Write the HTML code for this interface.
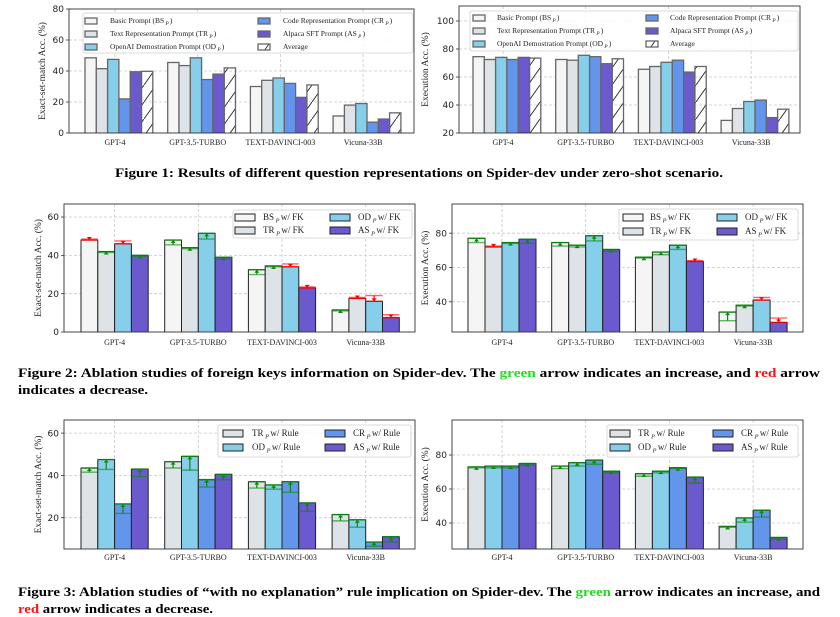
<!DOCTYPE html>
<html><head><meta charset="utf-8"><style>
html,body{margin:0;padding:0;background:#fff;}
svg{display:block;}
text{font-family:"Liberation Serif","DejaVu Serif",serif;}
.tick{font-family:"DejaVu Sans","Liberation Sans",sans-serif;font-size:9px;fill:#222;}
</style></head><body>
<svg id="fig" width="840" height="617" viewBox="0 0 840 617" xmlns="http://www.w3.org/2000/svg">
<defs>
<pattern id="hatch" patternUnits="userSpaceOnUse" width="12" height="17">
<line x1="0" y1="17" x2="12" y2="0" stroke="#222" stroke-width="0.9"/>
</pattern>
</defs>
<text x="115" y="177" textLength="608" lengthAdjust="spacingAndGlyphs" font-weight="bold" font-size="12.5">Figure 1: Results of different question representations on Spider-dev under zero-shot scenario.</text>
<text x="18" y="377" textLength="802" lengthAdjust="spacingAndGlyphs" font-weight="bold" font-size="12.5">Figure 2: Ablation studies of foreign keys information on Spider-dev. The <tspan fill="#22dd22">green</tspan> arrow indicates an increase, and <tspan fill="#ff1111">red</tspan> arrow</text>
<text x="18" y="394" textLength="130" lengthAdjust="spacingAndGlyphs" font-weight="bold" font-size="12.5">indicates a decrease.</text>
<text x="18" y="596" textLength="802" lengthAdjust="spacingAndGlyphs" font-weight="bold" font-size="12.5">Figure 3: Ablation studies of “with no explanation” rule implication on Spider-dev. The <tspan fill="#22dd22">green</tspan> arrow indicates an increase, and</text>
<text x="18" y="613" textLength="195" lengthAdjust="spacingAndGlyphs" font-weight="bold" font-size="12.5"><tspan fill="#ff1111">red</tspan> arrow indicates a decrease.</text>
</svg>
<script>
const categories = ['GPT-4','GPT-3.5-TURBO','TEXT-DAVINCI-003','Vicuna-33B'];
// Figure 1: exact-set-match
const em1BS  = [48.5, 45.5, 30, 11];
const em1TR  = [41.5, 43.5, 34, 18];
const em1OD  = [47.5, 48.5, 35.5, 19];
const em1CR  = [22, 34.5, 32, 7];
const em1AS  = [39.5, 38, 23, 9];
const em1AVG = [39.8, 42, 31, 13];
const em1Ticks = [0, 20, 40, 60, 80];
// Figure 1: execution
const ex1BS  = [74.5, 72.5, 65.5, 29];
const ex1TR  = [72.5, 72, 67.5, 37.5];
const ex1OD  = [74, 75.5, 70.5, 42.5];
const ex1CR  = [72.5, 74.5, 72, 43.5];
const ex1AS  = [74, 69.5, 63.5, 31];
const ex1AVG = [73.5, 73, 67.5, 37];
const ex1Ticks = [20, 40, 60, 80, 100];
// Figure 2: FK, exact-set-match (new / old)
const em2BS = [48, 48, 32.5, 11.5];   const em2BSold = [48.5, 45.5, 30, 11];
const em2TR = [42, 44, 34.5, 17.5];   const em2TRold = [41.5, 43.5, 34, 18];
const em2OD = [46, 51.5, 34, 16];     const em2ODold = [47.5, 48.5, 35.5, 19];
const em2AS = [40, 39, 23, 7.5];      const em2ASold = [39.5, 38, 23.5, 9];
const em2Ticks = [0, 20, 40, 60];
// Figure 2: FK, execution
const ex2BS = [77, 74.5, 66, 34];     const ex2BSold = [74.5, 72.5, 65.5, 29];
const ex2TR = [72, 73, 69, 38];       const ex2TRold = [72.5, 72, 67.5, 37.5];
const ex2OD = [74.5, 78.5, 73, 41];   const ex2ODold = [74, 75.5, 70.5, 42.5];
const ex2AS = [76.5, 70.5, 63.5, 28]; const ex2ASold = [74, 69.5, 64, 30.5];
const ex2Ticks = [40, 60, 80];
// Figure 3: Rule, exact-set-match
const em3TR = [43.5, 46.5, 37, 21.5]; const em3TRold = [41.5, 43.5, 34, 18.5];
const em3OD = [47.5, 49, 35.5, 19];   const em3ODold = [42.8, 42.5, 33.5, 15.5];
const em3CR = [26.5, 38, 37, 8.5];    const em3CRold = [22, 34.5, 32, 6.5];
const em3AS = [43, 40.5, 27, 11];     const em3ASold = [39.5, 38, 23, 8.5];
const em3Ticks = [20, 40, 60];
// Figure 3: Rule, execution
const ex3TR = [73, 73.5, 69, 38];     const ex3TROld = [72.5, 72, 67.5, 37.5];
const ex3OD = [73.5, 75.5, 70.5, 43]; const ex3ODold = [72.5, 73.5, 69.5, 40.5];
const ex3CR = [73.5, 77, 72.5, 47.5]; const ex3CRold = [72.5, 74.5, 72, 43.5];
const ex3AS = [75, 70.5, 67, 31.5];   const ex3ASold = [74, 69.5, 63.5, 30.5];
const ex3Ticks = [40, 60, 80];

const C = {BS:'#f5f5f5', TR:'#dde3e6', OD:'#87ceeb', CR:'#6495ed', AS:'#6a5acd'};
const NS = 'http://www.w3.org/2000/svg';
const svg = document.getElementById('fig');
function mk(tag, attrs, parent){
  const e = document.createElementNS(NS, tag);
  for (const k in attrs) e.setAttribute(k, attrs[k]);
  parent.appendChild(e);
  return e;
}
function labelText(parent, x, y, size, parts){
  const t = mk('text', {x:x, y:y, 'font-size':size, fill:'#222'}, parent);
  parts.forEach((p, i) => {
    const ts = mk('tspan', {}, t);
    if (i % 2 === 1) { ts.setAttribute('font-size', size*0.7); ts.setAttribute('font-style','italic'); ts.setAttribute('dy', size*0.25); }
    else if (i > 0) { ts.setAttribute('dy', -size*0.25); }
    ts.textContent = (i % 2 === 1 ? ' ' : '') + p + (i % 2 === 1 ? ' ' : '');
  });
  return t;
}
function drawPanel(p){
  const g = mk('g', {}, svg);
  
  
  const Y = v => p.y1 - (v - p.ymin) / (p.ymax - p.ymin) * (p.y1 - p.y0);
  const X = (i, k) => p.g0 + i * p.gs + k * p.w;
  const clip = mk('clipPath', {id: p.name + '-clip'}, g);
  mk('rect', {x:p.x0, y:p.y0, width:p.x1-p.x0, height:p.y1-p.y0}, clip);
  // grid
  p.ticks.forEach(t => {
    const gl = mk('line', {x1:p.x0, x2:p.x1, y1:Y(t), y2:Y(t), stroke:'#c8c8c8', 'stroke-width':0.8, 'stroke-dasharray':'3,2'}, g);
    
    
    const tl = mk('text', {x:p.x0-5, y:Y(t)+3.2, 'text-anchor':'end', class:'tick'}, g);
    tl.textContent = t;
    
    
    mk('line', {x1:p.x0-3, x2:p.x0, y1:Y(t), y2:Y(t), stroke:'#333', 'stroke-width':0.8}, g);
  });
  categories.forEach((c, i) => {
    const tx = p.g0 + i * p.gs + p.tickOff;
    const vl = mk('line', {x1:tx, x2:tx, y1:p.y0, y2:p.y1, stroke:'#c8c8c8', 'stroke-width':0.8, 'stroke-dasharray':'3,2'}, g);
    
    
    const xl = mk('text', {x:tx, y:p.xlabY, 'text-anchor':'middle', 'font-size':8, fill:'#222'}, g);
    xl.textContent = c;
    
    
  });
  const bg = mk('g', {'clip-path':'url(#' + p.name + '-clip)'}, g);
  p.series.forEach((s, k) => {
    s.vals.forEach((v, i) => {
      const x = X(i, k), top = Y(v);
      const r = mk('rect', {x:x, y:top, width:p.w, height:Math.max(0, p.y1 + 2 - top), fill:s.fill, stroke:p.edge, 'stroke-width':p.ew}, bg);
      
      
      if (s.old) {
        const o = s.old[i];
        const col = v >= o ? '#0a8a0a' : '#ff0000';
        const cx = x + p.w / 2;
        mk('line', {x1:x, x2:x+p.w, y1:Y(o), y2:Y(o), stroke:col, 'stroke-width':1.4, opacity:0.6}, bg);
        mk('line', {x1:x, x2:x+p.w, y1:top, y2:top, stroke:col, 'stroke-width':1.4, opacity:0.85}, bg);
        const a = mk('line', {x1:cx, x2:cx, y1:Y(o), y2:top, stroke:col, 'stroke-width':1.2}, bg);
        
        
        const d = v >= o ? 1 : -1;
        const hy = top + d * 3;
        const h = mk('polygon', {points:`${cx-2.5},${hy} ${cx+2.5},${hy} ${cx},${top}`, fill:col}, bg);
        
        
      }
    });
  });
  const fr = mk('rect', {x:p.x0, y:p.y0, width:p.x1-p.x0, height:p.y1-p.y0, fill:'none', stroke:'#333', 'stroke-width':0.9}, g);
  
  
  const cy = (p.y0 + p.y1) / 2;
  const yl = mk('text', {x:p.ylabX, y:cy, 'text-anchor':'middle', 'font-size':9.5, fill:'#222', transform:`rotate(-90 ${p.ylabX} ${cy})`}, g);
  yl.textContent = p.ylabel;
  
  
  // legend
  const L = p.legend;
  const lb = mk('rect', {x:L.x, y:L.y, width:L.w, height:L.h, rx:2, fill:'#fff', 'fill-opacity':0.85, stroke:'#cfcfcf', 'stroke-width':0.8}, g);
  
  
  L.items.forEach(it => {
    const pr = mk('rect', {x:it.px, y:it.y-L.ph+1, width:L.pw, height:L.ph, fill:it.fill, stroke:p.edge, 'stroke-width':p.ew}, g);
    
    
    const t = labelText(g, it.tx, it.y, L.fs, it.parts);
    
    
  });
}
const H = 'url(#hatch)';
// Panel 1
drawPanel({name:'fig1-em-chart', x0:69, x1:414, y0:9, y1:133, ymin:0, ymax:80, ticks:em1Ticks,
  g0:85, gs:82.7, w:11.3, tickOff:30, xlabY:145, ylabX:45, ylabel:'Exact-set-match Acc. (%)', edge:'#666', ew:1.3,
  series:[{key:'BS',vals:em1BS,fill:C.BS},{key:'TR',vals:em1TR,fill:C.TR},{key:'OD',vals:em1OD,fill:C.OD},{key:'CR',vals:em1CR,fill:C.CR},{key:'AS',vals:em1AS,fill:C.AS},{key:'AVG',vals:em1AVG,fill:H}],
  legend:{x:83,y:13,w:330,h:40,pw:12,ph:6,fs:7.5,items:[
    {px:85,tx:110,y:23,fill:C.BS,parts:['Basic Prompt (BS','P',')']},
    {px:85,tx:110,y:36,fill:C.TR,parts:['Text Representation Prompt (TR','P',')']},
    {px:85,tx:110,y:49,fill:C.OD,parts:['OpenAI Demostration Prompt (OD','P',')']},
    {px:258,tx:283,y:23,fill:C.CR,parts:['Code Representation Prompt (CR','P',')']},
    {px:258,tx:283,y:36,fill:C.AS,parts:['Alpaca SFT Prompt (AS','P',')']},
    {px:258,tx:283,y:49,fill:H,parts:['Average']}]}});
// Panel 2
drawPanel({name:'fig1-ex-chart', x0:459, x1:800, y0:6, y1:133, ymin:20, ymax:110.7, ticks:ex1Ticks,
  g0:473, gs:82.7, w:11.3, tickOff:30, xlabY:145, ylabX:428, ylabel:'Execution Acc. (%)', edge:'#666', ew:1.3,
  series:[{key:'BS',vals:ex1BS,fill:C.BS},{key:'TR',vals:ex1TR,fill:C.TR},{key:'OD',vals:ex1OD,fill:C.OD},{key:'CR',vals:ex1CR,fill:C.CR},{key:'AS',vals:ex1AS,fill:C.AS},{key:'AVG',vals:ex1AVG,fill:H}],
  legend:{x:470,y:11,w:328,h:40,pw:12,ph:6,fs:7.5,items:[
    {px:473,tx:497,y:20,fill:C.BS,parts:['Basic Prompt (BS','P',')']},
    {px:473,tx:497,y:33,fill:C.TR,parts:['Text Representation Prompt (TR','P',')']},
    {px:473,tx:497,y:46,fill:C.OD,parts:['OpenAI Demostration Prompt (OD','P',')']},
    {px:646,tx:670,y:20,fill:C.CR,parts:['Code Representation Prompt (CR','P',')']},
    {px:646,tx:670,y:33,fill:C.AS,parts:['Alpaca SFT Prompt (AS','P',')']},
    {px:646,tx:670,y:46,fill:H,parts:['Average']}]}});
// Panel 3
drawPanel({name:'fig2-em-chart', x0:64, x1:415, y0:204, y1:332, ymin:0, ymax:66.8, ticks:em2Ticks,
  g0:81, gs:83.7, w:16.8, tickOff:33.6, xlabY:345, ylabX:41, ylabel:'Exact-set-match Acc. (%)', edge:'#222', ew:1,
  series:[{key:'BS',vals:em2BS,old:em2BSold,fill:C.BS},{key:'TR',vals:em2TR,old:em2TRold,fill:C.TR},{key:'OD',vals:em2OD,old:em2ODold,fill:C.OD},{key:'AS',vals:em2AS,old:em2ASold,fill:C.AS}],
  legend:{x:233,y:210,w:179,h:28,pw:20,ph:7,fs:9,items:[
    {px:235,tx:263,y:220,fill:C.BS,parts:['BS','P','w/ FK']},
    {px:235,tx:263,y:233,fill:C.TR,parts:['TR','P','w/ FK']},
    {px:330,tx:358,y:220,fill:C.OD,parts:['OD','P','w/ FK']},
    {px:330,tx:358,y:233,fill:C.AS,parts:['AS','P','w/ FK']}]}});
// Panel 4
drawPanel({name:'fig2-ex-chart', x0:452, x1:803, y0:204, y1:332, ymin:22.4, ymax:97, ticks:ex2Ticks,
  g0:468, gs:83.7, w:17, tickOff:34, xlabY:345, ylabX:428, ylabel:'Execution Acc. (%)', edge:'#222', ew:1,
  series:[{key:'BS',vals:ex2BS,old:ex2BSold,fill:C.BS},{key:'TR',vals:ex2TR,old:ex2TRold,fill:C.TR},{key:'OD',vals:ex2OD,old:ex2ODold,fill:C.OD},{key:'AS',vals:ex2AS,old:ex2ASold,fill:C.AS}],
  legend:{x:619,y:209,w:179,h:31,pw:20,ph:7,fs:9,items:[
    {px:623,tx:650,y:220,fill:C.BS,parts:['BS','P','w/ FK']},
    {px:623,tx:650,y:234,fill:C.TR,parts:['TR','P','w/ FK']},
    {px:717,tx:745,y:220,fill:C.OD,parts:['OD','P','w/ FK']},
    {px:717,tx:745,y:234,fill:C.AS,parts:['AS','P','w/ FK']}]}});
// Panel 5
drawPanel({name:'fig3-em-chart', x0:64, x1:415, y0:420, y1:549, ymin:5.2, ymax:66.2, ticks:em3Ticks,
  g0:81, gs:83.7, w:16.8, tickOff:33.6, xlabY:560, ylabX:41, ylabel:'Exact-set-match Acc. (%)', edge:'#222', ew:1,
  series:[{key:'TR',vals:em3TR,old:em3TRold,fill:C.TR},{key:'OD',vals:em3OD,old:em3ODold,fill:C.OD},{key:'CR',vals:em3CR,old:em3CRold,fill:C.CR},{key:'AS',vals:em3AS,old:em3ASold,fill:C.AS}],
  legend:{x:218,y:425,w:193,h:32,pw:20,ph:7,fs:9,items:[
    {px:223,tx:252,y:436,fill:C.TR,parts:['TR','P','w/ Rule']},
    {px:223,tx:252,y:450,fill:C.OD,parts:['OD','P','w/ Rule']},
    {px:325,tx:353,y:436,fill:C.CR,parts:['CR','P','w/ Rule']},
    {px:325,tx:353,y:450,fill:C.AS,parts:['AS','P','w/ Rule']}]}});
// Panel 6
drawPanel({name:'fig3-ex-chart', x0:452, x1:803, y0:420, y1:549, ymin:24.7, ymax:100.6, ticks:ex3Ticks,
  g0:468, gs:83.7, w:17, tickOff:34, xlabY:560, ylabX:428, ylabel:'Execution Acc. (%)', edge:'#222', ew:1,
  series:[{key:'TR',vals:ex3TR,old:ex3TROld,fill:C.TR},{key:'OD',vals:ex3OD,old:ex3ODold,fill:C.OD},{key:'CR',vals:ex3CR,old:ex3CRold,fill:C.CR},{key:'AS',vals:ex3AS,old:ex3ASold,fill:C.AS}],
  legend:{x:607,y:425,w:191,h:32,pw:20,ph:7,fs:9,items:[
    {px:610,tx:638,y:436,fill:C.TR,parts:['TR','P','w/ Rule']},
    {px:610,tx:638,y:450,fill:C.OD,parts:['OD','P','w/ Rule']},
    {px:713,tx:741,y:436,fill:C.CR,parts:['CR','P','w/ Rule']},
    {px:713,tx:741,y:450,fill:C.AS,parts:['AS','P','w/ Rule']}]}});
</script>
</body></html>
